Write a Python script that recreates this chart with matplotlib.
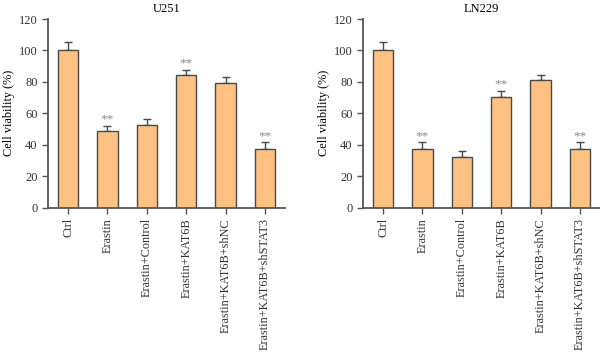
import matplotlib
matplotlib.use("Agg")
import matplotlib.pyplot as plt
import numpy as np

plt.rcParams['font.family'] = ['Liberation Serif', 'DejaVu Serif']

groups = ['Ctrl', 'Erastin', 'Erastin+Control', 'Erastin+KAT6B',
          'Erastin+KAT6B+shNC', 'Erastin+KAT6B+shSTAT3']

u251_mean = [100, 48.4, 52.5, 84.2, 79.3, 37.4]
u251_err = [5.3, 3.6, 4.0, 3.3, 4.0, 4.0]
u251_sig = ['', '**', '', '**', '', '**']

ln229_mean = [100, 37.4, 32.4, 70.3, 81.3, 37.4]
ln229_err = [5.2, 4.0, 3.8, 4.0, 3.2, 4.0]
ln229_sig = ['', '**', '', '**', '', '**']

bar_col = '#FDC282'
edge_col = '#4a4a4a'
axis_col = '#555555'

fig = plt.figure(figsize=(6, 3.52), dpi=100)


def draw_panel(ax, title, mean, err, sig):
    x = np.arange(len(groups))
    ax.bar(x, mean, width=0.52, color=bar_col, edgecolor=edge_col,
           linewidth=1.0, zorder=2)
    ax.errorbar(x, mean, yerr=[np.zeros(len(err)), err], fmt='none',
                ecolor=edge_col, elinewidth=1.0, capsize=3, capthick=1.0,
                zorder=1)
    for xi, m, e, s in zip(x, mean, err, sig):
        if s:
            ax.text(xi, m + e + 0.3, s, ha='center', va='bottom',
                    fontsize=9.5, color='#8a8a8a')
    ax.set_xlim(-0.51, len(groups) - 0.49)
    ax.set_ylim(0, 120)
    ax.set_yticks(range(0, 121, 20))
    ax.set_xticks(x)
    ax.set_xticklabels(groups, rotation=90, fontsize=8.8)
    ax.tick_params(axis='y', labelsize=9)
    ax.tick_params(colors='#333333', length=4, width=1.0)
    for side in ['top', 'right']:
        ax.spines[side].set_visible(False)
    for side in ['left', 'bottom']:
        ax.spines[side].set_color(axis_col)
        ax.spines[side].set_linewidth(1.3)
    ax.tick_params(axis='both', color=axis_col)
    ax.set_ylabel('Cell viability (%)', fontsize=8.8, labelpad=3)
    ax.set_title(title, fontsize=9, pad=5)


ax1 = fig.add_axes([0.080, 0.4105, 0.395, 0.5355])
draw_panel(ax1, 'U251', u251_mean, u251_err, u251_sig)

ax2 = fig.add_axes([0.605, 0.4105, 0.395, 0.5355])
draw_panel(ax2, 'LN229', ln229_mean, ln229_err, ln229_sig)

fig.savefig('out.png', dpi=100)
